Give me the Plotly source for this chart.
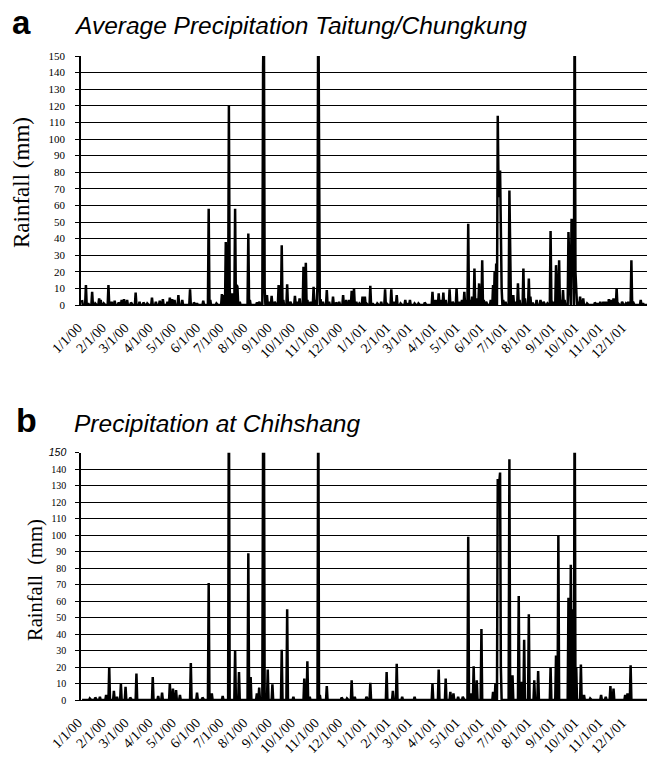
import pandas as pd
import plotly.graph_objects as go

# ---------------- data (daily rainfall, mm; days not listed are 0) ----------------
a_dates = [
    "2000-01-01", "2000-01-06", "2000-01-09", "2000-01-14", "2000-01-18", "2000-01-23", "2000-01-25", "2000-01-29",
    "2000-02-04", "2000-02-08", "2000-02-12", "2000-02-17", "2000-02-21", "2000-02-24", "2000-02-28",
    "2000-03-04", "2000-03-10", "2000-03-15", "2000-03-20", "2000-03-25", "2000-03-31",
    "2000-04-05", "2000-04-10", "2000-04-14", "2000-04-20", "2000-04-23", "2000-04-26", "2000-04-29",
    "2000-05-04", "2000-05-09", "2000-05-19", "2000-05-24", "2000-05-28",
    "2000-06-05", "2000-06-12", "2000-06-14", "2000-06-22", "2000-06-29",
    "2000-07-01", "2000-07-04", "2000-07-05", "2000-07-08", "2000-07-09", "2000-07-12", "2000-07-16",
    "2000-07-18", "2000-07-19", "2000-07-22",
    "2000-08-02", "2000-08-04", "2000-08-13", "2000-08-16", "2000-08-21", "2000-08-22", "2000-08-23",
    "2000-08-26", "2000-08-29",
    "2000-09-01", "2000-09-05", "2000-09-10", "2000-09-14", "2000-09-16", "2000-09-21", "2000-09-25",
    "2000-10-01", "2000-10-04", "2000-10-07", "2000-10-12", "2000-10-13", "2000-10-15", "2000-10-17",
    "2000-10-21", "2000-10-25", "2000-10-27", "2000-10-30", "2000-10-31",
    "2000-11-01", "2000-11-03", "2000-11-06", "2000-11-11", "2000-11-14", "2000-11-19", "2000-11-23", "2000-11-27",
    "2000-12-02", "2000-12-06", "2000-12-10", "2000-12-13", "2000-12-16", "2000-12-19", "2000-12-23",
    "2000-12-27", "2000-12-30",
    "2001-01-01", "2001-01-06", "2001-01-09", "2001-01-15", "2001-01-20", "2001-01-25", "2001-01-27",
    "2001-02-02", "2001-02-05", "2001-02-09", "2001-02-14", "2001-02-20", "2001-02-24", "2001-02-26",
    "2001-03-04", "2001-03-09", "2001-03-17", "2001-03-27", "2001-03-31",
    "2001-04-04", "2001-04-07", "2001-04-10", "2001-04-13", "2001-04-18", "2001-04-22", "2001-04-27",
    "2001-05-01", "2001-05-04", "2001-05-07", "2001-05-09", "2001-05-12", "2001-05-14", "2001-05-17",
    "2001-05-20", "2001-05-23", "2001-05-26", "2001-05-28", "2001-05-30",
    "2001-06-01", "2001-06-04", "2001-06-10", "2001-06-13", "2001-06-15", "2001-06-17", "2001-06-19",
    "2001-06-20", "2001-06-21", "2001-06-22", "2001-06-23", "2001-06-24", "2001-06-26", "2001-06-29",
    "2001-07-04", "2001-07-05", "2001-07-09", "2001-07-12", "2001-07-15", "2001-07-17", "2001-07-22",
    "2001-07-24", "2001-07-29", "2001-07-31",
    "2001-08-03", "2001-08-08", "2001-08-13", "2001-08-17", "2001-08-22", "2001-08-26", "2001-08-27",
    "2001-08-29",
    "2001-09-02", "2001-09-03", "2001-09-06", "2001-09-08", "2001-09-11", "2001-09-13", "2001-09-18",
    "2001-09-19", "2001-09-20", "2001-09-22", "2001-09-23", "2001-09-24", "2001-09-26", "2001-09-27",
    "2001-09-28", "2001-09-30",
    "2001-10-03", "2001-10-05", "2001-10-07", "2001-10-12", "2001-10-22", "2001-10-26", "2001-10-29",
    "2001-11-02", "2001-11-05", "2001-11-09", "2001-11-12", "2001-11-15", "2001-11-17", "2001-11-19",
    "2001-11-21", "2001-11-26",
    "2001-12-01", "2001-12-04", "2001-12-08", "2001-12-10", "2001-12-20", "2001-12-23",
]
a_mm = [
    3, 12, 1, 8, 1, 4, 3, 1,
    12, 2, 2.5, 1.5, 3, 3.5, 3,
    1.5, 7.5, 2, 1.5, 1, 4.5,
    2, 2.5, 3.5, 2, 4.5, 3.5, 3,
    6, 3, 9.5, 1.5, 1,
    2.5, 58, 3, 1, 6.5,
    6, 38, 8, 120, 10, 7, 58,
    12, 11, 2,
    43, 3, 1.5, 2, 143, 180, 10,
    6, 2,
    5.5, 2, 12, 36, 3, 12.5, 2,
    5.5, 2, 4, 23, 5, 25.5, 3,
    2, 11, 3, 12, 200,
    30, 3.5, 2, 9, 2, 5, 1.5, 2,
    6, 3, 3, 8.5, 10, 2, 1,
    5, 5,
    1, 11.5, 1, 1, 2, 9.5, 1,
    9.5, 2, 6, 1, 3, 1, 3,
    1, 1, 1.5, 8, 3,
    7, 3, 7.5, 3, 9.5, 2, 10,
    2, 3, 8, 3, 49, 3, 5,
    22, 4, 13, 4, 27,
    3, 2, 3, 12, 20, 25, 114,
    70, 65, 81, 30, 10, 3, 2,
    69, 5, 6, 2, 13, 3, 22,
    4, 16, 5,
    1.5, 3, 3, 2, 1, 44.5, 3,
    2,
    24, 5, 27, 3, 9, 3, 44,
    20, 10, 52, 35, 40, 200, 20,
    8, 2,
    5, 1, 4, 1, 1.5, 1, 2,
    2, 2, 3.5, 3, 4, 3, 10,
    1, 2,
    1, 2, 27, 2, 3, 1,
]

b_dates = [
    "2000-01-11", "2000-01-18", "2000-01-24",
    "2000-02-01", "2000-02-05", "2000-02-11", "2000-02-15", "2000-02-20", "2000-02-26",
    "2000-03-03", "2000-03-11",
    "2000-04-01", "2000-04-08", "2000-04-13", "2000-04-23", "2000-04-27",
    "2000-05-01", "2000-05-06", "2000-05-20", "2000-05-28",
    "2000-06-04", "2000-06-12", "2000-06-16", "2000-06-30",
    "2000-07-08", "2000-07-16", "2000-07-21",
    "2000-08-02", "2000-08-05", "2000-08-13", "2000-08-16", "2000-08-21", "2000-08-22", "2000-08-27",
    "2000-09-02", "2000-09-14", "2000-09-21", "2000-09-29",
    "2000-10-13", "2000-10-17", "2000-10-20", "2000-10-31",
    "2000-11-02", "2000-11-11", "2000-11-30",
    "2000-12-07", "2000-12-13", "2000-12-17",
    "2001-01-01", "2001-01-06", "2001-01-27",
    "2001-02-04", "2001-02-09", "2001-02-16",
    "2001-03-04", "2001-03-27",
    "2001-04-04", "2001-04-13", "2001-04-19", "2001-04-23", "2001-04-29",
    "2001-05-05", "2001-05-12", "2001-05-16", "2001-05-19", "2001-05-23", "2001-05-29",
    "2001-06-13", "2001-06-16", "2001-06-19", "2001-06-20", "2001-06-21", "2001-06-22", "2001-06-23",
    "2001-07-04", "2001-07-08", "2001-07-16", "2001-07-20", "2001-07-23", "2001-07-29",
    "2001-08-05", "2001-08-10", "2001-08-26",
    "2001-09-02", "2001-09-05", "2001-09-18", "2001-09-21", "2001-09-23", "2001-09-26", "2001-09-28",
    "2001-10-04", "2001-10-08", "2001-10-16", "2001-10-30",
    "2001-11-05", "2001-11-11", "2001-11-15", "2001-11-30",
    "2001-12-03", "2001-12-07",
]
b_mm = [
    1, 1.5, 2,
    3, 20, 5.5, 2, 10, 8,
    1.5, 16,
    14, 2.5, 4.5, 10, 7,
    6, 3, 22.5, 4.5,
    1.5, 71, 4, 2.5,
    200, 30, 17,
    89, 14, 4, 7.5, 160, 200, 18.5,
    9.5, 30.5, 55, 2,
    13, 23.5, 2, 200,
    3, 8.5, 1.5,
    1, 12, 2,
    2, 10.5, 17,
    5.5, 22, 2,
    2, 10,
    18.5, 13, 5, 4, 2,
    2, 99, 4, 20.5, 12, 43,
    5, 10, 134, 128, 132, 138, 20,
    146, 15, 63, 11, 36.5, 52,
    12, 17.5, 20,
    27, 100, 62, 82, 55, 200, 20,
    21.5, 3, 1, 3,
    2, 8.5, 7, 3,
    4, 21,
]

y_tick_vals = list(range(0, 151, 10))
y_tick_text_a = [str(v) for v in y_tick_vals]
y_tick_text_b = [str(v) for v in y_tick_vals[:-1]] + [
    '<span style="font-family:Liberation Sans;font-style:italic;font-size:10.5px">150</span>'
]

panel_a_letter = "a"
panel_a_title = "Average Precipitation Taitung/Chungkung"
panel_b_letter = "b"
panel_b_title = "Precipitation at Chihshang"
y_title_a = "Rainfall (mm)"
y_title_b = "Rainfall&nbsp; (mm)"

# ---------------- build daily series ----------------
days = pd.date_range("2000-01-01", "2001-12-31", freq="D")


def daily(dates, vals):
    s = pd.Series(vals, index=pd.to_datetime(dates), dtype=float)
    return s.reindex(days, fill_value=0.0)


ser_a = daily(a_dates, a_mm)
ser_b = daily(b_dates, b_mm)

# ---------------- layout geometry (page body margin removed below) ----------------
W, H = 647, 757
L, R = 81, 0
plot_w = W - L - R


def px(xp):  # xp: screen x in pixels
    return (xp - L) / plot_w


def py(yp):  # yp: screen y in pixels
    return 1 - yp / H


SERIF = "Liberation Serif"
SANS = "Liberation Sans"

fig = go.Figure()
fig.add_trace(go.Scatter(x=days, y=ser_a.values, mode="lines",
                         line=dict(color="black", width=2.5), xaxis="x", yaxis="y",
                         showlegend=False, hoverinfo="skip"))
fig.add_trace(go.Scatter(x=days, y=ser_b.values, mode="lines",
                         line=dict(color="black", width=2.5), xaxis="x2", yaxis="y2",
                         showlegend=False, hoverinfo="skip"))

xrange = ["1999-12-30 16:00", "2001-12-28 02:00"]
xcommon = dict(type="date", range=xrange, tick0="2000-01-01", dtick="M1",
               tickformat="%-m/%-d/%y", tickangle=-45, ticks="",
               ticklabelstandoff=8, ticklabelshift=-4,
               showgrid=False, showline=True, linecolor="black", linewidth=1,
               zeroline=False, automargin=False,
               tickfont=dict(family=SERIF, size=14, color="black"))
ycommon = dict(range=[0, 150], tickmode="array", tickvals=y_tick_vals,
               showgrid=True, gridcolor="black", gridwidth=1,
               showline=True, linecolor="black", linewidth=1.5,
               ticks="outside", ticklen=4, tickcolor="black", tickwidth=1,
               zeroline=False, automargin=False)

fig.update_layout(
    width=W, height=H,
    margin=dict(l=L, r=R, t=0, b=0),
    paper_bgcolor="white", plot_bgcolor="white",
    xaxis=dict(domain=[0, 1], anchor="y", **xcommon),
    yaxis=dict(domain=[py(305), py(56)], anchor="x", ticktext=y_tick_text_a,
               ticklabelstandoff=8,
               tickfont=dict(family=SERIF, size=11, color="black"), **ycommon),
    xaxis2=dict(domain=[0, 1], anchor="y2", **xcommon),
    yaxis2=dict(domain=[py(700), py(452.7)], anchor="x2", ticktext=y_tick_text_b,
                ticklabelstandoff=7,
                tickfont=dict(family=SERIF, size=10, color="black"), **ycommon),
)


def note(text, x, y, size, family, xanchor="left", angle=0):
    return dict(text=text, x=px(x), y=py(y), xref="paper", yref="paper",
                xanchor=xanchor, yanchor="middle", textangle=angle, showarrow=False,
                font=dict(family=family, size=size, color="black"))


ann = [
    note("<b>" + panel_a_letter + "</b>", 10, 22, 33, SANS),
    note("<i>" + panel_a_title + "</i>", 72, 25, 24.5, SANS),
    note("<b>" + panel_b_letter + "</b>", 14, 419.5, 34, SANS),
    note("<i>" + panel_b_title + "</i>", 72, 423, 24.5, SANS),
    note(y_title_a, 21, 183, 23, SERIF, xanchor="center", angle=-90),
    note(y_title_b, 35, 580, 20.5, SERIF, xanchor="center", angle=-90),
]
fig.update_layout(annotations=ann)

fig.write_html("out.html",
               config={"displayModeBar": False},
               post_script="document.body.style.margin='0px';document.body.style.overflow='hidden';")
